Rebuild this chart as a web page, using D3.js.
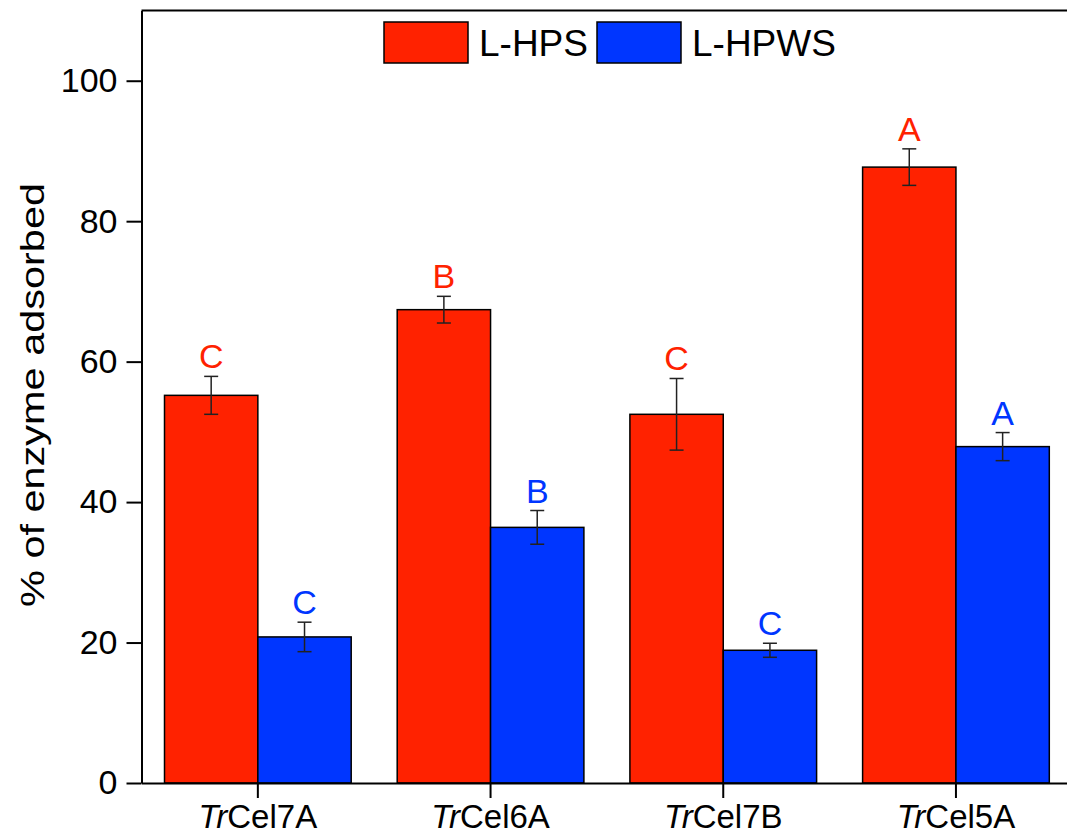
<!DOCTYPE html>
<html>
<head>
<meta charset="utf-8">
<script src="https://cdn.jsdelivr.net/npm/d3@7"></script>
<style>
  body { margin: 0; background: #fff; }
  text { font-family: Arial, "Liberation Sans", sans-serif; }
</style>
</head>
<body>
<div class="chart"></div>
<script>
// data
const enzymes = ["Cel7A", "Cel6A", "Cel7B", "Cel5A"];
const series = ["L-HPS", "L-HPWS"];
const colors = ["#ff2200", "#0036ff"];
const hps = [55.2, 67.4, 52.5, 87.7];
const hpsErr = [2.7, 1.9, 5.1, 2.6];
const hpws = [20.8, 36.4, 18.9, 47.9];
const hpwsErr = [2.1, 2.4, 1.0, 2.0];
const hpsLetters = ["C", "B", "C", "A"];
const hpwsLetters = ["C", "B", "C", "A"];
const yTicks = [0, 20, 40, 60, 80, 100];

// initialization
let outWidth = 1067, outHeight = 836;
let margin = {top: 10.5, left: 141.5, bottom: 53};
let bandW = 232.7;
let height = outHeight - margin.top - margin.bottom;
let width = bandW * enzymes.length;

const svg = d3.select(".chart").append("svg")
    .attr("width", outWidth)
    .attr("height", outHeight);

const g = svg.append("g")
    .attr("transform", `translate(${margin.left}, ${margin.top})`);

let x = d3.scaleBand().domain(enzymes).range([0, width]).padding(0);
let xs = d3.scaleBand().domain(series).range([23, bandW - 23]).padding(0);
let y = d3.scaleLinear().domain([0, 110]).range([height, 0]);

// build rows
let rows = [];
enzymes.forEach((e, i) => {
    rows.push({enz: e, s: 0, v: hps[i], err: hpsErr[i], letter: hpsLetters[i]});
    rows.push({enz: e, s: 1, v: hpws[i], err: hpwsErr[i], letter: hpwsLetters[i]});
});

// bars
g.selectAll("rect.bar")
    .data(rows)
    .join("rect")
    .attr("class", "bar")
    .attr("x", d => x(d.enz) + xs(series[d.s]))
    .attr("y", d => y(d.v))
    .attr("width", xs.bandwidth())
    .attr("height", d => y(0) - y(d.v))
    .attr("fill", d => colors[d.s])
    .attr("stroke", "#000")
    .attr("stroke-width", 1.5);

// error bars
const eb = g.selectAll("g.err")
    .data(rows)
    .join("g")
    .attr("class", "err")
    .attr("transform", d => `translate(${x(d.enz) + xs(series[d.s]) + xs.bandwidth()/2},0)`)
    .attr("stroke", "#222")
    .attr("stroke-width", 1.5);
eb.append("line")
    .attr("y1", d => y(d.v + d.err)).attr("y2", d => y(d.v - d.err));
eb.append("line")
    .attr("x1", -7).attr("x2", 7)
    .attr("y1", d => y(d.v + d.err)).attr("y2", d => y(d.v + d.err));
eb.append("line")
    .attr("x1", -7).attr("x2", 7)
    .attr("y1", d => y(d.v - d.err)).attr("y2", d => y(d.v - d.err));

// significance letters
g.selectAll("text.letter")
    .data(rows)
    .join("text")
    .attr("class", "letter")
    .attr("x", d => x(d.enz) + xs(series[d.s]) + xs.bandwidth()/2)
    .attr("y", d => y(d.v + d.err) - 8)
    .attr("text-anchor", "middle")
    .attr("font-size", 34)
    .attr("fill", d => colors[d.s])
    .text(d => d.letter);

// axes
const yAxis = g.append("g")
    .call(d3.axisLeft(y).tickValues(yTicks).tickSize(15).tickPadding(9).tickSizeOuter(0));
yAxis.selectAll("text").attr("font-size", 34).attr("fill", "#000").attr("font-family", null);
yAxis.selectAll("line").attr("stroke-width", 2);
yAxis.select(".domain").attr("stroke-width", 2);

const xAxis = g.append("g")
    .attr("transform", `translate(0,${height})`)
    .call(d3.axisBottom(x).tickSize(15).tickPadding(7).tickSizeOuter(0)
        .tickFormat(""));
xAxis.selectAll("line").attr("stroke-width", 2);
xAxis.select(".domain").attr("stroke-width", 2);
xAxis.selectAll(".tick text")
    .attr("font-size", 33)
    .attr("fill", "#000")
    .attr("font-family", null)
    .attr("dy", "0.71em")
    .each(function(d) {
        const t = d3.select(this);
        t.append("tspan").attr("font-style", "italic").text("Tr");
        t.append("tspan").text(d);
    });

// top frame line
g.append("line")
    .attr("x1", 0).attr("x2", width)
    .attr("y1", 0).attr("y2", 0)
    .attr("stroke", "#000").attr("stroke-width", 2);
g.append("line")
    .attr("x1", width).attr("x2", width)
    .attr("y1", 0).attr("y2", height)
    .attr("stroke", "#000").attr("stroke-width", 2);

// y title
svg.append("text")
    .attr("transform", `translate(44, 395) rotate(-90)`)
    .attr("text-anchor", "middle")
    .attr("font-size", 33)
    .attr("textLength", 424)
    .attr("lengthAdjust", "spacingAndGlyphs")
    .text("% of enzyme adsorbed");

// legend
const legX = [384, 597];
const leg = svg.selectAll("g.leg")
    .data(series)
    .join("g")
    .attr("class", "leg")
    .attr("transform", (d, i) => `translate(${legX[i]}, 22)`);
leg.append("rect")
    .attr("width", 84).attr("height", 41)
    .attr("fill", (d, i) => colors[i])
    .attr("stroke", "#000").attr("stroke-width", 1.5);
leg.append("text")
    .attr("x", 95).attr("y", 34)
    .attr("font-size", 37)
    .text(d => d);
</script>
</body>
</html>
